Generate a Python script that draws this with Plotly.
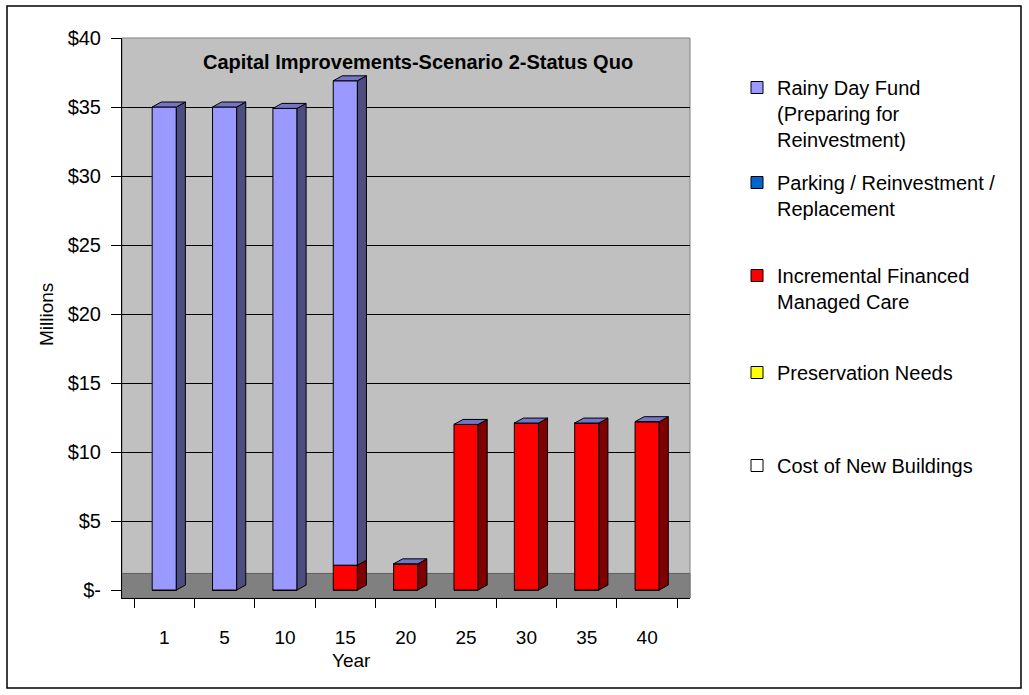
import plotly.graph_objects as go

# ---------------- data ----------------
years = ["1", "5", "10", "15", "20", "25", "30", "35", "40"]
rainy_day_fund = [35.0, 35.0, 34.9, 35.1, 0, 0, 0, 0, 0]
parking_reinvestment = [0, 0, 0, 0, 0, 0, 0, 0, 0]
incremental_financed = [0, 0, 0, 1.8, 1.9, 12.0, 12.1, 12.1, 12.2]
preservation_needs = [0, 0, 0, 0, 0, 0, 0, 0, 0]
new_buildings = [0, 0, 0, 0, 0, 0, 0, 0, 0]
y_ticks = [0, 5, 10, 15, 20, 25, 30, 35, 40]
y_tick_text = ["$-", "$5", "$10", "$15", "$20", "$25", "$30", "$35", "$40"]

W, H = 1029, 695
FONT = "Liberation Sans, Arial, sans-serif"

# series listed bottom-of-stack first (Excel stacking order)
series = [
    dict(name="Cost of New Buildings", vals=new_buildings, front="#FFFFFF", side="#808080", legend="legend5"),
    dict(name="Preservation Needs", vals=preservation_needs, front="#FFFF00", side="#808000", legend="legend4"),
    dict(name="Incremental Financed<br>Managed Care", vals=incremental_financed, front="#FF0000", side="#800000", legend="legend3"),
    dict(name="Parking / Reinvestment /<br>Replacement", vals=parking_reinvestment, front="#0066CC", side="#003366", legend="legend2"),
    dict(name="Rainy Day Fund<br>(Preparing for<br>Reinvestment)", vals=rainy_day_fund, front="#9999FF", side="#4D4D80", legend="legend"),
]
TOP_COLOR = "#7575C8"

idx = list(range(len(years)))
BAR_W = 0.40
DX, DY = 0.15, 0.36

fig = go.Figure()
base = [0.0] * len(years)
side_polys = []
for s in series:
    fig.add_trace(go.Bar(
        x=idx, y=s["vals"], base=list(base), width=BAR_W, name=s["name"],
        marker=dict(color=s["front"], line=dict(color="#000000", width=1)),
        legend=s["legend"], hoverinfo="skip",
    ))
    xs, ys = [], []
    for i, v in enumerate(s["vals"]):
        if v > 0:
            b = base[i]
            xr = i + BAR_W / 2
            xs += [xr, xr + DX, xr + DX, xr, xr, None]
            ys += [b, b + DY, b + v + DY, b + v, b, None]
    side_polys.append((xs, ys, s["side"]))
    base = [base[i] + s["vals"][i] for i in idx]

for xs, ys, col in side_polys:
    if xs:
        fig.add_trace(go.Scatter(x=xs, y=ys, mode="lines", fill="toself", fillcolor=col,
                                 line=dict(color="#000000", width=1), showlegend=False,
                                 hoverinfo="skip"))

# top faces
tx, ty = [], []
for i in idx:
    T = base[i]
    xl, xr = i - BAR_W / 2, i + BAR_W / 2
    tx += [xl, xr, xr + DX, xl + DX, xl, None]
    ty += [T, T, T + DY, T + DY, T, None]
fig.add_trace(go.Scatter(x=tx, y=ty, mode="lines", fill="toself", fillcolor=TOP_COLOR,
                         line=dict(color="#000000", width=1), showlegend=False, hoverinfo="skip"))

# ---------------- layout ----------------
def px(x):
    return x / W

def py(y):
    return 1 - y / H

legend_tops = {"legend": 68, "legend2": 163, "legend3": 256, "legend4": 353, "legend5": 446}
layout_legends = {}
for key, top in legend_tops.items():
    layout_legends[key] = dict(
        x=px(737), y=py(top), xanchor="left", yanchor="top", valign="top",
        font=dict(family=FONT, size=20, color="#000000"),
        bgcolor="rgba(0,0,0,0)", borderwidth=0, tracegroupgap=0,
    )

fig.update_layout(
    width=W, height=H, margin=dict(l=0, r=0, t=0, b=0, autoexpand=False),
    paper_bgcolor="#FFFFFF", plot_bgcolor="#C0C0C0",
    barmode="overlay", showlegend=True,
    font=dict(family=FONT, size=19, color="#000000"),
    xaxis=dict(
        domain=[px(122), px(690)], range=[-0.70, 8.71],
        tickmode="array", tickvals=idx, ticktext=years, ticks="",
        ticklabelstandoff=22, tickfont=dict(family=FONT, size=19, color="#000000"),
        showline=True, linecolor="#000000", linewidth=1, showgrid=False, zeroline=False,
        minor=dict(tickvals=[k - 0.5 for k in range(len(years) + 1)], ticks="outside",
                   ticklen=9, tickcolor="#000000", tickwidth=1, showgrid=False),
    ),
    yaxis=dict(
        domain=[py(598.3), py(38)], range=[-0.6, 40],
        tickmode="array", tickvals=y_ticks, ticktext=y_tick_text,
        ticks="outside", ticklen=10, tickcolor="#000000", ticklabelstandoff=6,
        tickfont=dict(family=FONT, size=20, color="#000000"),
        showline=True, linecolor="#000000", linewidth=1,
        showgrid=False, zeroline=False,
        minor=dict(tickvals=y_ticks[1:], ticks="", showgrid=True,
                   gridcolor="#000000", gridwidth=1),
    ),
    shapes=[
        # floor
        dict(type="rect", xref="x domain", yref="y", x0=0, x1=1, y0=-0.6, y1=1.2,
             fillcolor="#808080", line=dict(color="#606060", width=1), layer="below"),
        # back-wall outline
        dict(type="rect", xref="x domain", yref="y domain", x0=0, x1=1, y0=0, y1=1,
             fillcolor="rgba(0,0,0,0)", line=dict(color="#808080", width=1), layer="below"),
        # chart frame
        dict(type="rect", xref="paper", yref="paper", x0=px(7), x1=px(1021), y0=py(688), y1=py(6),
             fillcolor="rgba(0,0,0,0)", line=dict(color="#000000", width=1.5), layer="above"),
    ],
    annotations=[
        dict(text="<b>Capital Improvements-Scenario 2-Status Quo</b>", x=px(418), y=py(62),
             xref="paper", yref="paper", showarrow=False, xanchor="center", yanchor="middle",
             font=dict(family=FONT, size=20, color="#000000")),
        dict(text="Millions", x=px(46), y=py(315), xref="paper", yref="paper", showarrow=False,
             textangle=-90, xanchor="center", yanchor="middle",
             font=dict(family=FONT, size=19, color="#000000")),
        dict(text="Year", x=px(351), y=py(660), xref="paper", yref="paper", showarrow=False,
             xanchor="center", yanchor="middle",
             font=dict(family=FONT, size=19, color="#000000")),
    ],
    **layout_legends,
)

fig.write_html("out.html")
